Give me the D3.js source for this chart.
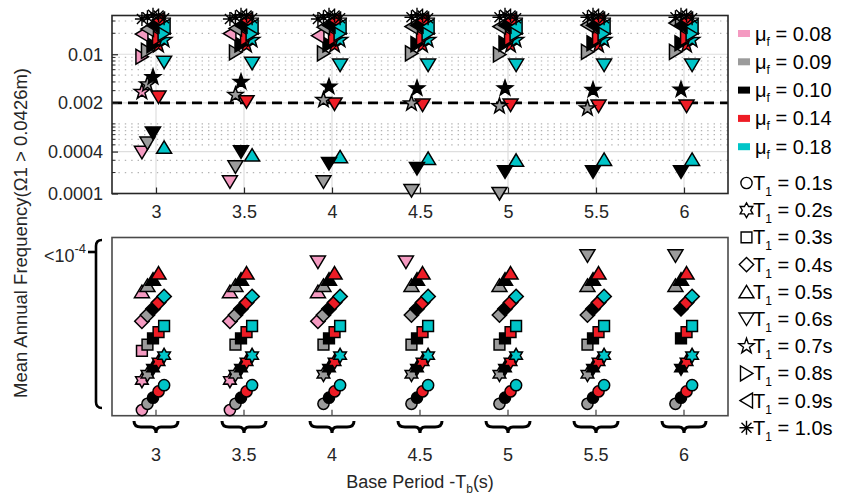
<!DOCTYPE html>
<html>
<head>
<meta charset="utf-8">
<script src="https://cdn.jsdelivr.net/npm/d3@7"></script>
<style>
  body { margin: 0; background: #fff; }
  svg { display: block; font-family: "Liberation Sans", Arial, sans-serif; }
</style>
</head>
<body>
<div id="chart"></div>
<script>
// categories and labels
const basePeriods = [3, 3.5, 4, 4.5, 5, 5.5, 6];
const muLabels = ["0.08", "0.09", "0.10", "0.14", "0.18"];
const muColors = ["#f49ac1", "#9b9b9b", "#000000", "#ee1c25", "#00c5c8"];
const t1Labels = ["0.1", "0.2", "0.3", "0.4", "0.5", "0.6", "0.7", "0.8", "0.9", "1.0"];
const t1Shapes = ["o", "h", "s", "d", "^", "v", "p", ">", "<", "*"];
const yTickValues = [0.0001, 0.0004, 0.002, 0.01];
const yTickLabels = ["0.0001", "0.0004", "0.002", "0.01"];
const threshold = 0.002;

// mean annual frequency, rows = T1 0.1..1.0 s, columns = base periods
// 0 = below 1e-4 (drawn in lower panel), null = no result
const freqMu008 = [
  [0, 0, null, null, null, null, null],
  [0, 0, null, null, null, null, null],
  [0, null, null, null, null, null, null],
  [0, 0, 0, null, null, null, null],
  [0, 0, 0, null, null, null, null],
  [0.00039, 0.000147, 0, 0, null, null, null],
  [0.00287, null, null, null, null, null, null],
  [0.0092, null, null, null, null, null, null],
  [0.0195, 0.0198, 0.0185, null, null, null, null],
  [0.032, 0.032, 0.032, null, null, null, null]
];
const freqMu009 = [
  [0, 0, 0, 0, 0, 0, 0],
  [0, 0, 0, 0, 0, 0, null],
  [0, 0, 0, 0, 0, 0, null],
  [0, 0, 0, 0, 0, 0, null],
  [0, 0, 0, 0, 0, 0, 0],
  [0.00053, 0.000242, 0.000147, 0.00011, 0.0001, 0, 0],
  [0.0037, 0.0026, 0.0022, 0.00197, 0.0018, 0.00167, null],
  [0.0112, 0.0106, 0.0103, 0.0103, 0.0099, 0.0108, 0.0108],
  [0.023, 0.0235, 0.0245, 0.025, 0.025, 0.0262, 0.028],
  [0.034, 0.034, 0.034, 0.034, 0.034, 0.034, 0.034]
];
const freqMu010 = [
  [0, 0, 0, 0, 0, 0, 0],
  [0, 0, 0, 0, 0, 0, 0],
  [0, 0, 0, 0, 0, 0, 0],
  [0, 0, 0, 0, 0, 0, 0],
  [0, 0, 0, 0, 0, 0, 0],
  [0.00074, 0.000397, 0.00027, 0.000229, 0.000205, 0.000205, 0.000205],
  [0.0047, 0.0040, 0.00342, 0.00324, 0.00324, 0.00306, 0.0031],
  [0.0135, 0.0138, 0.0138, 0.014, 0.0142, 0.0144, 0.0144],
  [0.026, 0.026, 0.026, 0.026, 0.026, 0.026, 0.026],
  [0.037, 0.037, 0.037, 0.037, 0.037, 0.037, 0.037]
];
const freqMu014 = [
  [0, 0, 0, 0, 0, 0, 0],
  [0, 0, 0, 0, 0, 0, 0],
  [0, 0, 0, 0, 0, 0, 0],
  [0, 0, 0, 0, 0, 0, 0],
  [0, 0, 0, 0, 0, 0, 0],
  [0.00243, 0.00208, 0.00193, 0.00186, 0.00186, 0.0018, 0.0018],
  [0.0135, 0.0135, 0.0135, 0.0135, 0.0135, 0.0135, 0.0135],
  [0.017, 0.017, 0.017, 0.017, 0.017, 0.017, 0.017],
  [0.031, 0.031, 0.031, 0.031, 0.031, 0.031, 0.031],
  [0.036, 0.036, 0.036, 0.036, 0.036, 0.036, 0.036]
];
const freqMu018 = [
  [0, 0, 0, 0, 0, 0, 0],
  [0, 0, 0, 0, 0, 0, 0],
  [0, 0, 0, 0, 0, 0, 0],
  [0, 0, 0, 0, 0, 0, 0],
  [0.00046, 0.000356, 0.000336, 0.000319, 0.0003, 0.000308, 0.000308],
  [0.0077, 0.0074, 0.0070, 0.0070, 0.0070, 0.0070, 0.0070],
  [0.016, 0.016, 0.016, 0.016, 0.016, 0.016, 0.016],
  [0.020, 0.020, 0.020, 0.020, 0.020, 0.020, 0.020],
  [0.025, 0.025, 0.025, 0.025, 0.025, 0.025, 0.025],
  [0.033, 0.033, 0.033, 0.033, 0.033, 0.033, 0.033]
];
const series = [freqMu008, freqMu009, freqMu010, freqMu014, freqMu018];

// canvas
const W = 844, H = 495;
const svg = d3.select('#chart').append('svg')
  .attr('width', W)
  .attr('height', H);

const axisColor = "#262626";
const upper = { l: 112, r: 728, t: 15.5, b: 193.5 };
const lower = { l: 112, r: 728, t: 237.5, b: 415.7 };

// scales
const x = d3.scaleLinear().domain([2.75, 6.25]).range([upper.l, upper.r]);
const yTop = d3.scaleLog().domain([1e-4, 0.036]).range([upper.b, upper.t]);
const yBot = d3.scaleLinear().domain([-0.19, 5.83]).range([lower.b, lower.t]);
const jitter = d3.scaleLinear().domain([0, 4]).range([-0.08, 0.046]);

// marker paths, MATLAB-like
function markerPath(code) {
  const star = (n, R, r) => {
    const pts = [];
    for (let a = 0; a < 2 * n; a++) {
      const ang = -Math.PI / 2 + a * Math.PI / n;
      const rad = a % 2 ? r : R;
      pts.push([rad * Math.cos(ang), rad * Math.sin(ang)]);
    }
    return "M" + pts.map(p => p[0].toFixed(2) + "," + p[1].toFixed(2)).join("L") + "Z";
  };
  switch (code) {
    case "o": return "M5.6,0A5.6,5.6 0 1,1 -5.6,0A5.6,5.6 0 1,1 5.6,0Z";
    case "s": return "M-5.4,-5.4H5.4V5.4H-5.4Z";
    case "d": return "M0,-7.2L7.2,0L0,7.2L-7.2,0Z";
    case "^": return "M0,-6.5L7.5,6L-7.5,6Z";
    case "v": return "M0,6.5L7.5,-6L-7.5,-6Z";
    case ">": return "M6.5,0L-6,7.5L-6,-7.5Z";
    case "<": return "M-6.5,0L6,7.5L6,-7.5Z";
    case "p": return star(5, 8, 3.2);
    case "h": return star(6, 7.3, 4.2);
    case "*": return "M-7,0H7M0,-7V7M-5,-5L5,5M-5,5L5,-5";
  }
}

// ---------- upper panel ----------
const gTop = svg.append('g');

// minor dotted grid (log)
const minorTicks = yTop.ticks().filter(v => !yTickValues.some(t => Math.abs(t - v) / t < 1e-6));
gTop.selectAll('.minor').data(minorTicks).enter().append('line')
  .attr('x1', upper.l).attr('x2', upper.r)
  .attr('y1', d => yTop(d)).attr('y2', d => yTop(d))
  .attr('stroke', '#b4b4b4').attr('stroke-width', 1.2)
  .attr('stroke-dasharray', '1.4,5');

// major grid
gTop.selectAll('.hgrid').data(yTickValues).enter().append('line')
  .attr('x1', upper.l).attr('x2', upper.r)
  .attr('y1', d => yTop(d)).attr('y2', d => yTop(d))
  .attr('stroke', '#dedede').attr('stroke-width', 1.2);
gTop.selectAll('.vgrid').data(basePeriods).enter().append('line')
  .attr('x1', d => x(d)).attr('x2', d => x(d))
  .attr('y1', upper.t).attr('y2', upper.b)
  .attr('stroke', '#dedede').attr('stroke-width', 1.2);

// threshold
gTop.append('line')
  .attr('x1', upper.l).attr('x2', upper.r)
  .attr('y1', yTop(threshold)).attr('y2', yTop(threshold))
  .attr('stroke', '#000').attr('stroke-width', 2.6)
  .attr('stroke-dasharray', '10,6');

// minor ticks left
gTop.selectAll('.mtick').data(minorTicks).enter().append('line')
  .attr('x1', upper.l).attr('x2', upper.l + 3.5)
  .attr('y1', d => yTop(d)).attr('y2', d => yTop(d))
  .attr('stroke', axisColor).attr('stroke-width', 1);

// y axis
const yAxis = d3.axisLeft(yTop).tickValues(yTickValues)
  .tickFormat((d, i) => yTickLabels[i]).tickSizeInner(-6).tickSizeOuter(0).tickPadding(9);
const yG = gTop.append('g').attr('transform', `translate(${upper.l},0)`).call(yAxis);
yG.select('.domain').remove();
yG.selectAll('line').attr('stroke', axisColor).attr('stroke-width', 1.2);
yG.selectAll('text').attr('fill', axisColor).style('font-size', '18px')
  .attr('font-family', '"Liberation Sans", Arial, sans-serif');

// x axis (upper)
const xAxis = d3.axisBottom(x).tickValues(basePeriods).tickFormat(d3.format(''))
  .tickSizeInner(-6).tickSizeOuter(0).tickPadding(12);
const xG = gTop.append('g').attr('transform', `translate(0,${upper.b})`).call(xAxis);
xG.select('.domain').remove();
xG.selectAll('line').attr('stroke', axisColor).attr('stroke-width', 1.2);
xG.selectAll('text').attr('fill', axisColor).style('font-size', '18px')
  .attr('font-family', '"Liberation Sans", Arial, sans-serif');

gTop.append('rect')
  .attr('x', upper.l).attr('y', upper.t)
  .attr('width', upper.r - upper.l).attr('height', upper.b - upper.t)
  .attr('fill', 'none').attr('stroke', axisColor).attr('stroke-width', 1.6);

// ---------- lower panel ----------
const gBot = svg.append('g');
gBot.selectAll('.btick').data(basePeriods).enter().append('line')
  .attr('x1', d => x(d)).attr('x2', d => x(d))
  .attr('y1', lower.b).attr('y2', lower.b - 6)
  .attr('stroke', '#404040').attr('stroke-width', 1.2);
gBot.append('rect')
  .attr('x', lower.l).attr('y', lower.t)
  .attr('width', lower.r - lower.l).attr('height', lower.b - lower.t)
  .attr('fill', 'none').attr('stroke', '#4a4a4a').attr('stroke-width', 1.6);

// ---------- markers ----------
const gMarkTop = svg.append('g');
const gMarkBot = svg.append('g');
t1Shapes.forEach((shape, k) => {
  series.forEach((rows, i) => {
    rows[k].forEach((v, j) => {
      if (v === null) return;
      const px = x(basePeriods[j] + jitter(i));
      const py = v > 0 ? yTop(v) : yBot(k + 0.21 * i);
      const g = v > 0 ? gMarkTop : gMarkBot;
      g.append('path')
        .attr('d', markerPath(shape))
        .attr('transform', `translate(${px},${py})`)
        .attr('fill', shape === '*' ? 'none' : muColors[i])
        .attr('stroke', '#000')
        .attr('stroke-width', shape === '*' ? 1.4 : 1.5)
        .attr('stroke-linejoin', 'miter');
    });
  });
});

// ---------- bracket and "<10^-4" ----------
svg.append('path')
  .attr('d', `M102,240 Q96,240 96,246 L96,402 Q96,408 102,408`)
  .attr('fill', 'none').attr('stroke', '#000').attr('stroke-width', 2.6);
svg.append('line')
  .attr('x1', 88).attr('x2', 96).attr('y1', 252).attr('y2', 252)
  .attr('stroke', '#000').attr('stroke-width', 2.6);
const lt = svg.append('text')
  .attr('x', 86).attr('y', 262)
  .attr('text-anchor', 'end')
  .attr('fill', axisColor)
  .style('font-size', '18px');
lt.append('tspan').text('<10');
lt.append('tspan').attr('dy', -9).style('font-size', '13px').text('-4');

// ---------- braces + lower x labels ----------
const braces = svg.append('g');
basePeriods.forEach(tb => {
  const cx = x(tb), y0 = 421;
  braces.append('path')
    .attr('d', `M${cx - 22},${y0} Q${cx - 22},${y0 + 6} ${cx - 15},${y0 + 6} L${cx - 5},${y0 + 6} ` +
      `Q${cx},${y0 + 6} ${cx},${y0 + 12} Q${cx},${y0 + 6} ${cx + 5},${y0 + 6} L${cx + 15},${y0 + 6} ` +
      `Q${cx + 22},${y0 + 6} ${cx + 22},${y0}`)
    .attr('fill', 'none').attr('stroke', '#000').attr('stroke-width', 3);
});
svg.append('g').selectAll('text').data(basePeriods).enter().append('text')
  .attr('x', d => x(d)).attr('y', 461)
  .attr('text-anchor', 'middle')
  .attr('fill', axisColor)
  .style('font-size', '18px')
  .text(d => d3.format('')(d));

// x title
const xt = svg.append('text')
  .attr('x', 420).attr('y', 488)
  .attr('text-anchor', 'middle')
  .attr('fill', axisColor)
  .style('font-size', '18px');
xt.append('tspan').text('Base Period -T');
xt.append('tspan').attr('dy', 5).style('font-size', '12px').text('b');
xt.append('tspan').attr('dy', -5).text('(s)');

// y title
svg.append('text')
  .attr('transform', 'translate(27,233) rotate(-90)')
  .attr('text-anchor', 'middle')
  .attr('fill', axisColor)
  .style('font-size', '18.5px')
  .text('Mean Annual Frequency(Ω1 > 0.0426m)');

// ---------- legend ----------
const leg = svg.append('g');
muLabels.forEach((lab, i) => {
  const yy = 33.5 + i * 28.3;
  leg.append('rect')
    .attr('x', 738).attr('y', yy - 3.5).attr('width', 12).attr('height', 7)
    .attr('fill', muColors[i]);
  const t = leg.append('text').attr('x', 755).attr('y', yy + 7)
    .attr('fill', '#000').style('font-size', '20px');
  t.append('tspan').text('μ');
  t.append('tspan').attr('dy', 5).style('font-size', '12px').text('f');
  t.append('tspan').attr('dy', -5).text(' = ' + lab);
});
t1Labels.forEach((lab, k) => {
  const yy = 183 + k * 27.2;
  leg.append('path')
    .attr('d', markerPath(t1Shapes[k]))
    .attr('transform', `translate(746.5,${yy})`)
    .attr('fill', t1Shapes[k] === '*' ? 'none' : '#fff')
    .attr('stroke', '#000').attr('stroke-width', 1.4);
  const t = leg.append('text').attr('x', 753).attr('y', yy + 7)
    .attr('fill', '#000').style('font-size', '20px');
  t.append('tspan').text('T');
  t.append('tspan').attr('dy', 6).style('font-size', '12px').text('1');
  t.append('tspan').attr('dy', -6).text(' = ' + lab + 's');
});
</script>
</body>
</html>
